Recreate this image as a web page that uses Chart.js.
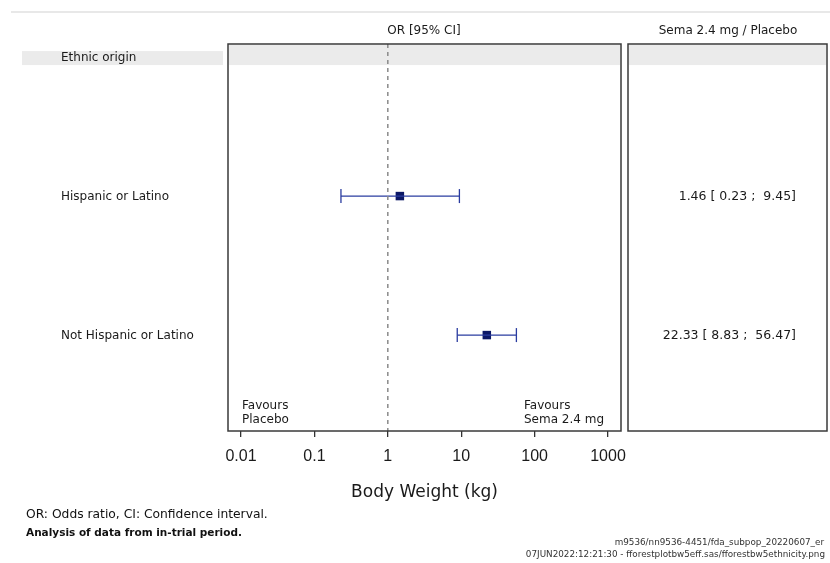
<!DOCTYPE html>
<html>
<head>
<meta charset="utf-8">
<script src="https://cdn.jsdelivr.net/npm/chart.js@4"></script>
<style>
  html, body { margin: 0; padding: 0; background: #fff; }
  #forest { display: block; }
</style>
</head>
<body>
<canvas id="forest" width="830" height="563"></canvas>
<script>
// values
const rowLabels = ['Ethnic origin', 'Hispanic or Latino', 'Not Hispanic or Latino'];
const oddsRatio = [1.46, 22.33];
const ciLow = [0.23, 8.83];
const ciHigh = [9.45, 56.47];
const tickValues = [0.01, 0.1, 1, 10, 100, 1000];

const Y_MIN = -0.094, Y_MAX = 2.69;
const SANS = '"Liberation Sans", Arial, sans-serif';
const WIDE = '"DejaVu Sans", Verdana, sans-serif';
const LINE_BLUE = '#2a3ca0';
const MARK_NAVY = '#0b1766';

function fmt(v) { return v.toFixed(2); }

const decorations = {
    id: 'decorations',
    beforeDatasetsDraw(chart) {
        const c = chart.ctx, a = chart.chartArea, y = chart.scales.y;
        const yh = y.getPixelForValue(0);
        c.save();
        // faint rule at the top
        c.strokeStyle = '#e8e8e8';
        c.lineWidth = 2;
        c.beginPath(); c.moveTo(11, 12); c.lineTo(830, 12); c.stroke();
        // header bands
        c.fillStyle = '#ebebeb';
        c.fillRect(22, yh - 6, 201, 14);
        c.fillRect(a.left + 1, a.top + 1, a.right - a.left - 2, yh + 8 - a.top - 1);
        c.fillRect(629, a.top + 1, 197, yh + 8 - a.top - 1);
        c.restore();
    },
    afterDraw(chart) {
        const c = chart.ctx, a = chart.chartArea, y = chart.scales.y;
        c.save();
        c.fillStyle = '#1a1a1a';
        c.textBaseline = 'middle';

        // column headers
        c.font = '12px ' + WIDE;
        c.textAlign = 'center';
        c.fillText('OR [95% CI]', 424, 31);
        c.fillText('Sema 2.4 mg / Placebo', 728, 31);

        // row labels
        c.textAlign = 'left';
        rowLabels.forEach((lab, i) => {
            c.fillText(lab, 61, y.getPixelForValue(i) + 1);
        });

        // estimates column
        c.font = '12.5px ' + WIDE;
        c.textAlign = 'right';
        oddsRatio.forEach((v, i) => {
            const txt = fmt(v) + ' [ ' + fmt(ciLow[i]) + ' ;  ' + fmt(ciHigh[i]) + ']';
            c.fillText(txt, 796, y.getPixelForValue(i + 1) + 1);
        });

        // favours
        c.font = '12px ' + WIDE;
        c.textAlign = 'left';
        c.fillText('Favours', 242, 406);
        c.fillText('Placebo', 242, 420);
        c.fillText('Favours', 524, 406);
        c.fillText('Sema 2.4 mg', 524, 420);

        // boxes
        c.strokeStyle = '#3a3a3a';
        c.lineWidth = 1.5;
        c.strokeRect(a.left, a.top, a.right - a.left, a.bottom - a.top);
        c.strokeRect(628, a.top, 199, a.bottom - a.top);

        // footnotes
        c.fillStyle = '#111';
        c.font = '12.3px ' + WIDE;
        c.fillText('OR: Odds ratio, CI: Confidence interval.', 26, 515);
        c.font = 'bold 10.5px ' + WIDE;
        c.fillText('Analysis of data from in-trial period.', 26, 533);
        c.font = '8.8px ' + WIDE;
        c.textAlign = 'right';
        c.fillStyle = '#333';
        c.fillText('m9536/nn9536-4451/fda_subpop_20220607_er', 824, 543);
        c.fillText('07JUN2022:12:21:30 - fforestplotbw5eff.sas/fforestbw5ethnicity.png', 825, 555);
        c.restore();
    }
};

document.addEventListener('DOMContentLoaded', function () {
    const ctx = document.getElementById('forest').getContext('2d');

    const ciSets = oddsRatio.map((v, i) => ({
        type: 'line',
        data: [{ x: ciLow[i], y: i + 1 }, { x: ciHigh[i], y: i + 1 }],
        borderColor: LINE_BLUE,
        borderWidth: 1.3,
        pointStyle: 'line',
        rotation: 90,
        pointRadius: 7,
        pointBorderColor: LINE_BLUE,
        pointBorderWidth: 1.3,
        fill: false
    }));

    new Chart(ctx, {
        type: 'scatter',
        data: {
            datasets: [
                {
                    type: 'line',
                    data: [{ x: 1, y: Y_MIN }, { x: 1, y: Y_MAX }],
                    borderColor: '#8a8a8a',
                    borderWidth: 1.5,
                    borderDash: [4, 4],
                    pointRadius: 0,
                    fill: false
                },
                ...ciSets,
                {
                    type: 'scatter',
                    data: oddsRatio.map((v, i) => ({ x: v, y: i + 1 })),
                    pointStyle: 'rect',
                    pointRadius: 6,
                    backgroundColor: MARK_NAVY,
                    borderColor: MARK_NAVY,
                    borderWidth: 0
                }
            ]
        },
        options: {
            responsive: false,
            animation: false,
            events: [],
            layout: { padding: { left: 228, right: 209, top: 44, bottom: 52 } },
            plugins: { legend: { display: false }, tooltip: { enabled: false } },
            scales: {
                x: {
                    type: 'logarithmic',
                    min: 0.00665,
                    max: 1503,
                    afterBuildTicks: scale => { scale.ticks = tickValues.map(v => ({ value: v })); },
                    afterFit: scale => { scale.height = 80; },
                    grid: { drawOnChartArea: false, tickLength: 6, color: '#333', lineWidth: 1.3 },
                    border: { display: false },
                    ticks: {
                        autoSkip: false,
                        maxRotation: 0,
                        padding: 10,
                        color: '#1a1a1a',
                        font: { size: 16, family: SANS },
                        callback: v => String(v)
                    },
                    title: {
                        display: true,
                        text: 'Body Weight (kg)',
                        color: '#1a1a1a',
                        font: { size: 17, family: WIDE },
                        padding: { top: 4, bottom: 8 }
                    }
                },
                y: {
                    type: 'linear',
                    reverse: true,
                    min: Y_MIN,
                    max: Y_MAX,
                    display: false
                }
            }
        },
        plugins: [decorations]
    });
});
</script>
</body>
</html>
